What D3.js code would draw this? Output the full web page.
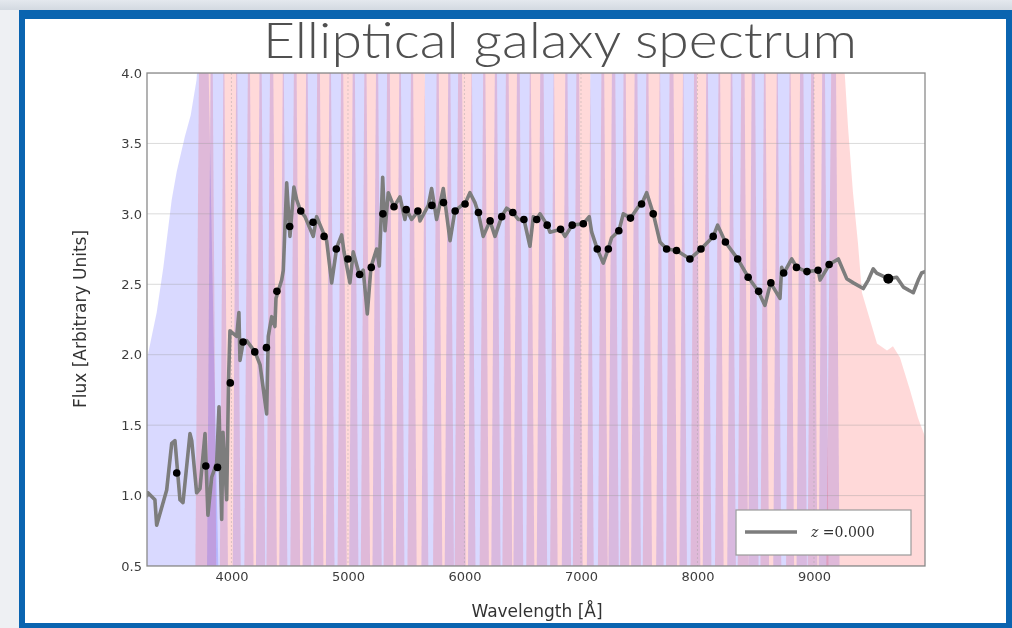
<!DOCTYPE html>
<html>
<head>
<meta charset="utf-8">
<script src="https://cdn.jsdelivr.net/npm/d3@7"></script>
<style>
  html, body { margin: 0; padding: 0; background: #ffffff; }
  svg { display: block; }
</style>
</head>
<body>
<svg id="slide" width="1012" height="628"></svg>
<script>
// ---- Observed spectrum (wavelength in Angstrom, flux in arbitrary units) ----
const specWave = [3275,3283,3343,3358,3444,3487,3515,3558,3584,3644,3659,3701,3730,3773,3798,3830,3873,3893,3916,3927,3959,3975,3987,4045,4064,4073,4101,4130,4202,4245,4302,4316,4345,4373,4382,4431,4445,4474,4502,4536,4560,4594,4631,4702,4731,4817,4860,4903,4946,4966,5017,5045,5097,5131,5166,5197,5246,5269,5298,5318,5346,5395,5446,5489,5504,5546,5603,5618,5690,5718,5761,5818,5876,5918,5976,6004,6047,6090,6118,6161,6219,6262,6319,6362,6414,6462,6511,6562,6591,6620,6648,6711,6734,6826,6863,6925,7020,7071,7092,7140,7191,7234,7263,7326,7363,7427,7492,7521,7564,7621,7678,7736,7821,7936,8030,8136,8173,8239,8345,8436,8522,8579,8628,8708,8723,8742,8809,8852,8938,9037,9052,9131,9209,9281,9338,9423,9466,9509,9538,9638,9710,9767,9852,9895,9924,9953];
const specFlux = [1.00,1.02,0.97,0.79,1.04,1.37,1.39,0.97,0.95,1.44,1.39,1.02,1.05,1.44,0.86,1.13,1.23,1.63,0.83,1.45,0.97,1.82,2.17,2.13,2.30,1.96,2.09,2.10,2.02,1.93,1.58,2.13,2.27,2.20,2.40,2.53,2.60,3.22,2.84,3.19,3.10,3.02,2.98,2.84,2.98,2.81,2.51,2.76,2.85,2.73,2.51,2.73,2.57,2.60,2.29,2.62,2.75,2.63,3.26,2.88,3.15,3.05,3.12,2.96,3.03,2.96,3.02,2.95,3.06,3.18,2.96,3.18,2.81,3.02,3.06,3.07,3.15,3.08,3.01,2.84,2.95,2.84,2.98,3.04,3.01,2.96,2.96,2.77,2.98,2.96,3.00,2.92,2.87,2.89,2.84,2.92,2.93,2.98,2.87,2.75,2.65,2.75,2.83,2.88,3.00,2.97,3.05,3.07,3.15,3.00,2.80,2.75,2.74,2.68,2.75,2.84,2.92,2.80,2.68,2.55,2.45,2.35,2.51,2.40,2.62,2.58,2.68,2.62,2.59,2.60,2.53,2.64,2.68,2.54,2.51,2.47,2.53,2.61,2.58,2.54,2.55,2.48,2.44,2.53,2.58,2.59];

// ---- Narrow-band filters: central wavelengths and synthetic photometry ----
const filterCenters = [3780,3880,3990,4100,4200,4300,4390,4500,4595,4700,4795,4900,5000,5100,5200,5300,5395,5500,5600,5720,5820,5920,6005,6120,6220,6320,6415,6510,6620,6710,6825,6925,7020,7140,7235,7325,7425,7520,7620,7735,7820,7935,8030,8135,8240,8345,8435,8525,8630,8740,8850,8940,9035,9130];
const photFlux = [1.21,1.20,1.80,2.09,2.02,2.05,2.45,2.91,3.02,2.94,2.84,2.75,2.68,2.57,2.62,3.00,3.05,3.03,3.02,3.06,3.08,3.02,3.07,3.01,2.95,2.98,3.01,2.96,2.96,2.92,2.89,2.92,2.93,2.75,2.75,2.88,2.97,3.07,3.00,2.75,2.74,2.68,2.75,2.84,2.80,2.68,2.55,2.45,2.51,2.58,2.62,2.59,2.60,2.64];
// Narrow filter profile: offsets from centre (Angstrom) and scaled transmission
const narrowOffsets = [-94, -51, 51, 94];
const narrowTrans   = [0, 5, 5, 0];

// ---- Broad filters at both ends of the range ----
const blueBroadWave  = [3150,3275,3358,3415,3487,3530,3600,3650,3700,3720,3800,3850,3900];
const blueBroadTrans = [1.50,1.97,2.30,2.62,3.10,3.30,3.55,3.70,3.95,4.20,4.20,2.00,0.00];
const redBroadWave   = [9100,9150,9249,9292,9335,9378,9412,9480,9541,9627,9678,9738,9824,9893,9953,10050];
const redBroadTrans  = [0.00,4.20,4.20,3.62,3.15,2.79,2.44,2.25,2.08,2.03,2.06,1.98,1.75,1.55,1.42,1.20];
const broadCenters = [3530, 9638];
const broadFlux    = [1.16, 2.54];

// ---- Axis ticks and labels ----
const xTicks = [4000, 5000, 6000, 7000, 8000, 9000];
const yTicks = [0.5, 1.0, 1.5, 2.0, 2.5, 3.0, 3.5, 4.0];
const titleText = "Elliptical galaxy spectrum";
const xLabel = "Wavelength [Å]";
const yLabel = "Flux [Arbitrary Units]";
const legendLabel = "0.000";

const svg = d3.select("#slide");
const W = 1012, H = 628;

// Slide chrome
const defs = svg.append("defs");
const grad = defs.append("linearGradient").attr("id", "topGrad").attr("x1", 0).attr("x2", 0).attr("y1", 0).attr("y2", 1);
grad.append("stop").attr("offset", "0%").attr("stop-color", "#e4e8ee");
grad.append("stop").attr("offset", "100%").attr("stop-color", "#d3d9e1");
svg.append("rect").attr("x", 0).attr("y", 0).attr("width", W).attr("height", H).attr("fill", "#eef0f3");
svg.append("rect").attr("x", 0).attr("y", 0).attr("width", W).attr("height", 10).attr("fill", "url(#topGrad)");
svg.append("rect").attr("x", 19).attr("y", 10).attr("width", W - 19).attr("height", H - 10).attr("fill", "#0a64b0");
svg.append("rect").attr("x", 25).attr("y", 19).attr("width", W - 25 - 6).attr("height", H - 19 - 5).attr("fill", "#ffffff");

// Title
svg.append("text")
  .attr("x", 560).attr("y", 58)
  .attr("text-anchor", "middle")
  .attr("font-family", "'Lato Light', Lato, 'Open Sans', sans-serif")
  .attr("font-weight", 300)
  .attr("font-size", 50)
  .attr("fill", "#505050")
  .attr("textLength", 594)
  .attr("lengthAdjust", "spacingAndGlyphs")
  .text(titleText);

// Chart (rendered slightly soft, as an embedded figure)
defs.append("filter").attr("id", "soft")
  .attr("x", "-5%").attr("y", "-5%").attr("width", "110%").attr("height", "110%")
  .append("feGaussianBlur").attr("stdDeviation", 0.75);

const x = d3.scaleLinear().domain([3275, 9953]).range([147, 925]);
const y = d3.scaleLinear().domain([0.5, 4.0]).range([566, 73]);

defs.append("clipPath").attr("id", "plotClip")
  .append("rect").attr("x", 147).attr("y", 73).attr("width", 778).attr("height", 493);

const chart = svg.append("g").attr("filter", "url(#soft)");
const plot = chart.append("g").attr("clip-path", "url(#plotClip)");

const area = d3.area().x(d => x(d[0])).y0(y(0)).y1(d => y(d[1])).curve(d3.curveLinear);
const BLUE = "rgba(0,0,255,0.15)", RED = "rgba(255,0,0,0.15)";

// Broad blue filter
plot.append("path").datum(d3.zip(blueBroadWave, blueBroadTrans)).attr("d", area).attr("fill", BLUE);

// Narrow filters, alternating colours
plot.selectAll("path.nb").data(filterCenters).join("path")
  .attr("class", "nb")
  .attr("d", c => area(narrowOffsets.map((o, i) => [c + o, narrowTrans[i]])))
  .attr("fill", (c, i) => i % 2 === 0 ? RED : BLUE);

// Broad red filter
plot.append("path").datum(d3.zip(redBroadWave, redBroadTrans)).attr("d", area).attr("fill", RED);

// Grid
plot.selectAll("line.hg").data(yTicks).join("line").attr("class", "hg")
  .attr("x1", 147).attr("x2", 925).attr("y1", d => y(d)).attr("y2", d => y(d))
  .attr("stroke", "rgba(150,150,150,0.35)").attr("stroke-width", 1);
plot.selectAll("line.vg").data(xTicks).join("line").attr("class", "vg")
  .attr("y1", 73).attr("y2", 566).attr("x1", d => x(d)).attr("x2", d => x(d))
  .attr("stroke", "rgba(150,150,150,0.35)").attr("stroke-width", 1).attr("stroke-dasharray", "2,2");

// Spectrum
const line = d3.line().x(d => x(d[0])).y(d => y(d[1]));
plot.append("path").datum(d3.zip(specWave, specFlux))
  .attr("d", line).attr("fill", "none")
  .attr("stroke", "#7d7d7d").attr("stroke-width", 3.6)
  .attr("stroke-linejoin", "round").attr("stroke-linecap", "round");

// Photometry points
plot.selectAll("circle.ph").data(d3.zip(filterCenters, photFlux)).join("circle").attr("class", "ph")
  .attr("cx", d => x(d[0])).attr("cy", d => y(d[1])).attr("r", 3.8).attr("fill", "#000");
plot.selectAll("circle.bb").data(d3.zip(broadCenters, broadFlux)).join("circle").attr("class", "bb")
  .attr("cx", d => x(d[0])).attr("cy", d => y(d[1])).attr("r", (d, i) => i === 1 ? 5 : 3.8).attr("fill", "#000");

// Frame
chart.append("rect").attr("x", 147).attr("y", 73).attr("width", 778).attr("height", 493)
  .attr("fill", "none").attr("stroke", "#8a8a8a").attr("stroke-width", 1.3);

// Axes
const xAxis = d3.axisBottom(x).tickValues(xTicks).tickFormat(d3.format("d")).tickSize(0).tickPadding(6);
const gx = chart.append("g").attr("transform", "translate(0,566)").call(xAxis);
const yAxis = d3.axisLeft(y).tickValues(yTicks).tickFormat(d3.format(".1f")).tickSize(0).tickPadding(5);
const gy = chart.append("g").attr("transform", "translate(147,0)").call(yAxis);
[gx, gy].forEach(g => {
  g.select(".domain").remove();
  g.selectAll("text").attr("font-family", "'DejaVu Sans', sans-serif").attr("font-size", 13).attr("fill", "#3c3c3c");
});

// Axis titles
chart.append("text").attr("x", 537).attr("y", 617).attr("text-anchor", "middle")
  .attr("font-family", "'DejaVu Sans', sans-serif").attr("font-size", 17).attr("fill", "#333")
  .text(xLabel);
chart.append("text").attr("transform", "translate(86,319) rotate(-90)").attr("text-anchor", "middle")
  .attr("font-family", "'DejaVu Sans', sans-serif").attr("font-size", 17).attr("fill", "#333")
  .text(yLabel);

// Legend
const lg = chart.append("g");
lg.append("rect").attr("x", 736).attr("y", 510).attr("width", 175).attr("height", 45)
  .attr("fill", "#ffffff").attr("stroke", "#9a9a9a").attr("stroke-width", 1.2);
lg.append("line").attr("x1", 745).attr("x2", 797).attr("y1", 532).attr("y2", 532)
  .attr("stroke", "#7d7d7d").attr("stroke-width", 3.5);
const lt = lg.append("text").attr("x", 811).attr("y", 537)
  .attr("font-family", "'DejaVu Serif', serif").attr("font-size", 14).attr("fill", "#333");
lt.append("tspan").attr("font-style", "italic").text("z");
lt.append("tspan").text(" =" + legendLabel);
</script>
</body>
</html>
